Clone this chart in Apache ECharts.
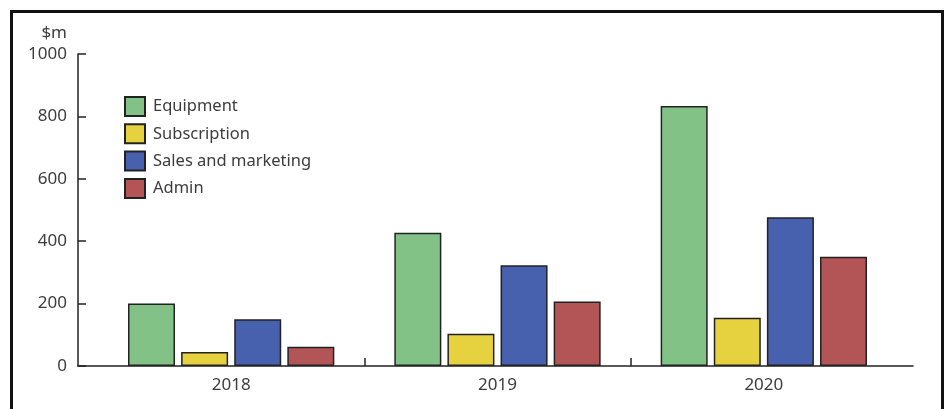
<!DOCTYPE html>
<html>
<head>
<meta charset="utf-8">
<script src="https://cdn.jsdelivr.net/npm/echarts@6/dist/echarts.min.js"></script>
<style>
  html, body { margin: 0; padding: 0; background: #fff; }
  #chart { width: 949px; height: 409px; }
</style>
</head>
<body>
<div id="chart"></div>
<script>
// Spending by category and year, $m
const years = ['2018', '2019', '2020'];
const equipment = [200, 427, 833];
const subscription = [45, 103, 155];
const salesMarketing = [150, 323, 477];
const admin = [62, 207, 350];
const yTicks = [0, 200, 400, 600, 800, 1000];

const seriesDefs = [
  { name: 'Equipment', data: equipment, color: '#83c287' },
  { name: 'Subscription', data: subscription, color: '#e6d23e' },
  { name: 'Sales and marketing', data: salesMarketing, color: '#4861ae' },
  { name: 'Admin', data: admin, color: '#b35557' }
];

const FONT = 'Noto Sans';
const INK = '#222';
const TEXT = '#3c3c3c';

// boundaries between the year bands, used only for the separator ticks
const bandEdges = Array.from({ length: years.length + 1 }, (_, i) => 'edge' + i);

const chart = echarts.init(document.getElementById('chart'), null, { renderer: 'canvas' });

chart.setOption({
  animation: false,
  backgroundColor: '#fff',
  textStyle: { fontFamily: FONT },
  graphic: [{
    type: 'rect',
    shape: { x: 11.5, y: 11.5, width: 931, height: 430 },
    style: { fill: 'none', stroke: '#111', lineWidth: 3 },
    silent: true,
    z: 100
  }],
  legend: {
    orient: 'vertical',
    left: 124,
    top: 96,
    padding: 0,
    icon: 'rect',
    itemWidth: 20,
    itemHeight: 19,
    itemGap: 6.3,
    selectedMode: false,
    textStyle: {
      fontFamily: FONT,
      fontSize: 16.5,
      lineHeight: 19,
      color: TEXT,
      padding: [0, 0, 0, 3]
    },
    data: seriesDefs.map(s => s.name)
  },
  grid: [
    { left: 78, right: 36, top: 54, bottom: 43 },
    { left: 98, right: 52, top: 54, bottom: 43 }
  ],
  xAxis: [
    {
      // full-width baseline
      type: 'category',
      gridIndex: 0,
      position: 'bottom',
      data: years,
      axisLine: { show: true, lineStyle: { color: INK, width: 1.5 } },
      axisTick: { show: false },
      axisLabel: { show: false },
      splitLine: { show: false }
    },
    {
      // year bands carrying the bars and labels
      type: 'category',
      gridIndex: 1,
      position: 'bottom',
      data: years,
      axisLine: { show: false },
      axisTick: { show: false },
      axisLabel: {
        show: true,
        margin: 11,
        fontFamily: FONT,
        fontSize: 17,
        color: TEXT
      },
      splitLine: { show: false }
    },
    {
      // separator ticks between the year bands
      type: 'category',
      gridIndex: 1,
      position: 'bottom',
      offset: 0,
      data: bandEdges,
      boundaryGap: false,
      axisLine: { show: false },
      axisLabel: { show: false },
      axisTick: {
        show: true,
        inside: true,
        length: 8,
        interval: (i) => i > 0 && i < bandEdges.length - 1,
        lineStyle: { color: INK, width: 1.5 }
      },
      splitLine: { show: false }
    }
  ],
  yAxis: [
    {
      type: 'value',
      gridIndex: 0,
      min: yTicks[0],
      max: yTicks[yTicks.length - 1],
      interval: yTicks[1] - yTicks[0],
      name: '$m',
      nameLocation: 'end',
      nameGap: 12,
      nameTextStyle: {
        fontFamily: FONT,
        fontSize: 17,
        color: TEXT,
        align: 'right',
        padding: [0, 11, 0, 0]
      },
      axisLine: { show: true, lineStyle: { color: INK, width: 1.5 } },
      axisTick: { show: true, inside: true, length: 8, lineStyle: { color: INK, width: 1.5 } },
      axisLabel: {
        margin: 11,
        fontFamily: FONT,
        fontSize: 17,
        color: TEXT,
        formatter: (v) => String(v)
      },
      splitLine: { show: false }
    },
    {
      type: 'value',
      gridIndex: 1,
      min: yTicks[0],
      max: yTicks[yTicks.length - 1],
      interval: yTicks[1] - yTicks[0],
      show: false,
      splitLine: { show: false }
    }
  ],
  series: seriesDefs.map(s => ({
    name: s.name,
    type: 'bar',
    xAxisIndex: 1,
    yAxisIndex: 1,
    data: s.data,
    barWidth: 47,
    barGap: '13%',
    itemStyle: { color: s.color, borderColor: INK, borderWidth: 1.5 }
  }))
});
</script>
</body>
</html>
